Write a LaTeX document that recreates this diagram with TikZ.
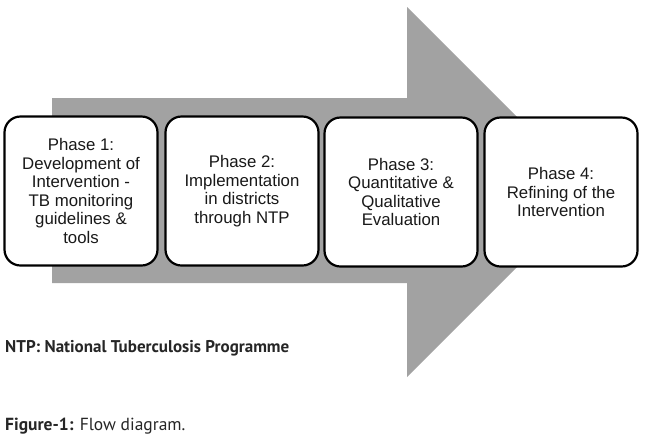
\documentclass[tikz,border=0pt]{standalone}
\usepackage{fontspec}
\setmainfont{Liberation Sans}
\newfontfamily\capfont{PT Sans}
\begin{document}
\begin{tikzpicture}[x=1pt,y=-1pt,
  phasebox/.style={draw=black, line width=2.2pt, fill=white, rounded corners=16pt,
    minimum width=153pt, minimum height=149pt, align=center, text=black!90,
    font=\fontsize{16.8}{18.5}\selectfont, inner sep=0pt},
  arrowfill/.style={fill={rgb,255:red,162;green,162;blue,162}, draw=none},
  captext/.style={anchor=base west, inner sep=0pt, text=black!85}
]
\useasboundingbox (0,0) rectangle (650,440);
\fill[white] (0,0) rectangle (650,440);
% big background arrow
\path[arrowfill] (52,98) -- (407,98) -- (407,7) -- (592,192) -- (407,377)
  -- (407,283) -- (52,283) -- cycle;
% phase boxes
\node[phasebox] (p1) at (81,191) {Phase 1:\\Development of\\Intervention -\\TB monitoring\\guidelines \&\\tools};
\node[phasebox] (p2) at (242,191) {Phase 2:\\Implementation\\in districts\\through NTP};
\node[phasebox] (p3) at (401,192) {Phase 3:\\Quantitative \&\\Qualitative\\Evaluation};
\node[phasebox] (p4) at (561,192) {Phase 4:\\Refining of the\\Intervention};
% bottom texts
\node[captext, font=\capfont\bfseries\fontsize{17}{20}\selectfont] (ntp) at (5,352) {NTP: National Tuberculosis Programme};
\node[captext, font=\capfont\fontsize{17.5}{20}\selectfont] (fig) at (5,430) {\textbf{Figure-1:} Flow diagram.};
\end{tikzpicture}
\end{document}
